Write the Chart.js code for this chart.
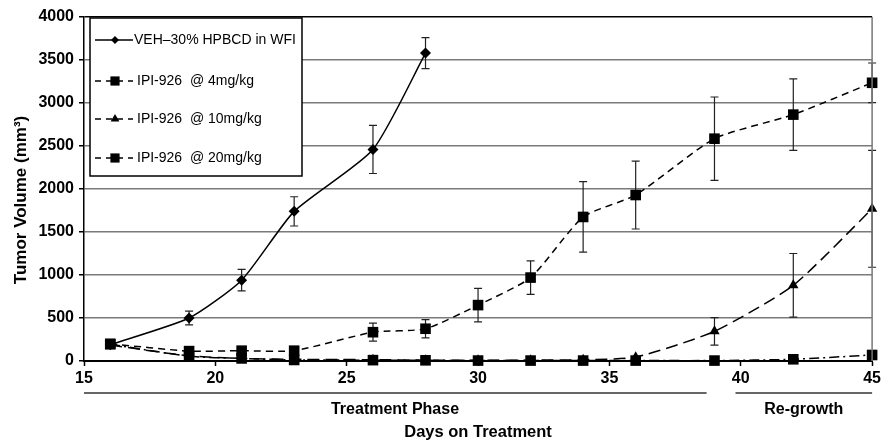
<!DOCTYPE html>
<html><head><meta charset="utf-8">
<script src="https://cdn.jsdelivr.net/npm/chart.js@4.4.0/dist/chart.umd.min.js"></script>
<style>html,body{margin:0;padding:0;background:#fff;} #wrap{width:884px;height:441px;}</style>
</head><body><div id="wrap"><canvas id="c" width="884" height="441"></canvas></div>
<script>
const days = [16,19,21,23,26,28,30,32,34,36,39,42,45];
const seriesLabels = ['VEH\u201330% HPBCD in WFI','IPI-926  @ 4mg/kg','IPI-926  @ 10mg/kg','IPI-926  @ 20mg/kg'];
const vehValues = [190,500,940,1740,2460,3580];
const vehErr    = [30,80,125,170,280,180];
const mg4Values = [200,115,120,120,335,375,650,970,1675,1930,2585,2865,3235];
const mg4Err    = [30,40,40,40,105,105,195,195,410,395,485,415,230];
const mg10Values = [185,60,30,20,15,10,10,10,15,45,345,880,1770];
const mg10Err    = [0,0,0,0,0,0,0,0,0,0,160,370,680];
const mg20Values = [195,55,30,12,10,8,5,5,5,5,5,20,70];
const mg20Err    = [0,0,0,0,0,0,0,0,0,0,0,0,0];
const xTicks = [15,20,25,30,35,40,45];
const yTicks = [0,500,1000,1500,2000,2500,3000,3500,4000];
const phaseLabels = ['Treatment Phase','Re-growth'];
const phaseRanges = [[15,38.7],[39.8,45]];
const xTitle = 'Days on Treatment';
const yTitle = 'Tumor Volume (mm\u00B3)';

const errorSets = [vehErr, mg4Err, mg10Err, mg20Err];
const pts = (vals) => vals.map((v,i)=>({x:days[i], y:v}));
const styles = [
  {dash:[], point:'rectRot', r:5.5},
  {dash:[7,5], point:'rect', r:7.5},
  {dash:[12,6], point:'triangle', r:6},
  {dash:[10,4,2,4], point:'rect', r:7.5}
];
const valueSets = [vehValues, mg4Values, mg10Values, mg20Values];
const datasets = valueSets.map((vals,i)=>({
  label: seriesLabels[i],
  data: pts(vals),
  borderColor:'#000', backgroundColor:'#000', borderWidth:1.5,
  borderDash: styles[i].dash,
  pointStyle: styles[i].point, pointRadius: styles[i].r,
  pointBackgroundColor:'#000', pointBorderColor:'#000', pointBorderWidth:0,
  tension:0.2, fill:false, clip:false
}));

function drawMarker(ctx, style, x, y, r){
  ctx.beginPath();
  if(style==='rectRot'){ ctx.moveTo(x-r,y); ctx.lineTo(x,y-r); ctx.lineTo(x+r,y); ctx.lineTo(x,y+r); ctx.closePath(); }
  else if(style==='rect'){ const s=r*Math.SQRT1_2; ctx.rect(x-s,y-s,2*s,2*s); }
  else { ctx.moveTo(x,y-r); ctx.lineTo(x+r*0.87,y+r*0.5); ctx.lineTo(x-r*0.87,y+r*0.5); ctx.closePath(); }
  ctx.fill();
}

const decor = {
  id:'decor',
  beforeDatasetsDraw(chart){
    const ctx=chart.ctx, xs=chart.scales.x, ys=chart.scales.y;
    ctx.save();
    ctx.strokeStyle='#222'; ctx.lineWidth=1.2; ctx.setLineDash([]);
    chart.data.datasets.forEach((ds,i)=>{
      ds.data.forEach((p,j)=>{
        const e=errorSets[i][j]; if(!e) return;
        const px=xs.getPixelForValue(p.x);
        const t=ys.getPixelForValue(p.y+e), b=ys.getPixelForValue(Math.max(0,p.y-e));
        ctx.beginPath();
        ctx.moveTo(px,t); ctx.lineTo(px,b);
        ctx.moveTo(px-4,t); ctx.lineTo(px+4,t);
        ctx.moveTo(px-4,b); ctx.lineTo(px+4,b);
        ctx.stroke();
      });
    });
    ctx.restore();
  },
  afterDraw(chart){
    const ctx=chart.ctx, ca=chart.chartArea, xs=chart.scales.x;
    ctx.save();
    // right border
    ctx.strokeStyle='#777'; ctx.lineWidth=1.5;
    ctx.beginPath(); ctx.moveTo(ca.right, ca.top); ctx.lineTo(ca.right, ca.bottom); ctx.stroke();
    // phase lines and labels
    ctx.strokeStyle='#333'; ctx.lineWidth=1.5; ctx.fillStyle='#000';
    ctx.font='bold 16px "Liberation Sans", Arial, sans-serif';
    ctx.textAlign='center'; ctx.textBaseline='middle';
    phaseRanges.forEach((r,i)=>{
      const x0=xs.getPixelForValue(r[0]), x1=xs.getPixelForValue(r[1]);
      ctx.beginPath(); ctx.moveTo(x0, ca.bottom+32); ctx.lineTo(x1, ca.bottom+32); ctx.stroke();
      ctx.fillText(phaseLabels[i], i===0 ? 395 : (x0+x1)/2, ca.bottom+49);
    });
    // axis titles
    ctx.font='bold 16.5px "Liberation Sans", Arial, sans-serif';
    ctx.textBaseline='alphabetic';
    ctx.fillText(xTitle, (ca.left+ca.right)/2, 437);
    ctx.save();
    ctx.translate(26, 200); ctx.rotate(-Math.PI/2);
    ctx.font='bold 17px "Liberation Sans", Arial, sans-serif';
    ctx.fillText(yTitle, 0, 0);
    ctx.restore();
    // legend
    const lx=ca.left+6, ly=ca.top+1, lw=212, lh=158;
    ctx.fillStyle='#fff'; ctx.fillRect(lx,ly,lw,lh);
    ctx.strokeStyle='#000'; ctx.lineWidth=1.5; ctx.strokeRect(lx,ly,lw,lh);
    ctx.font='14px "Liberation Sans", Arial, sans-serif';
    ctx.textAlign='left'; ctx.textBaseline='middle';
    const ys=[ly+22, ly+63, ly+101, ly+140];
    chart.data.datasets.forEach((ds,i)=>{
      const y=ys[i];
      ctx.strokeStyle='#000'; ctx.lineWidth=1.5;
      ctx.setLineDash(styles[i].dash.length? [6,5]: []);
      ctx.beginPath(); ctx.moveTo(lx+5,y); ctx.lineTo(lx+43,y); ctx.stroke();
      ctx.setLineDash([]);
      ctx.fillStyle='#000';
      drawMarker(ctx, styles[i].point, lx+25, y, i===0?4:(i===2?5:6.5));
      ctx.fillText(ds.label, i===0? lx+44 : lx+47, y);
    });
    ctx.restore();
  }
};

new Chart(document.getElementById('c'), {
  type:'line',
  data:{datasets},
  options:{
    responsive:false, animation:false,
    layout:{padding:{top:17,right:11,left:0,bottom:0}},
    plugins:{legend:{display:false}, tooltip:{enabled:false}},
    scales:{
      x:{
        type:'linear', min:15, max:45,
        afterFit(s){ s.height=80; },
        afterBuildTicks(s){ s.ticks = xTicks.map(v=>({value:v})); },
        ticks:{color:'#000', font:{family:'"Liberation Sans", Arial', size:16, weight:'bold'}, padding:3, maxRotation:0, callback:(v)=>String(v)},
        grid:{drawOnChartArea:false, drawTicks:true, tickLength:5, color:'#000', tickWidth:1.5},
        border:{display:true, color:'#000', width:2}
      },
      y:{
        min:0, max:4000,
        afterFit(s){ s.width=84; },
        afterBuildTicks(s){ s.ticks = yTicks.map(v=>({value:v})); },
        ticks:{color:'#000', font:{family:'"Liberation Sans", Arial', size:16, weight:'bold'}, padding:5, callback:(v)=>String(v)},
        grid:{color:(c)=> c.tick && c.tick.value===4000 ? '#000' : '#7a7a7a', lineWidth:1.5, tickLength:5, tickColor:'#000', tickWidth:1.5},
        border:{display:true, color:'#000', width:1.5}
      }
    }
  },
  plugins:[decor]
});
</script></body></html>
